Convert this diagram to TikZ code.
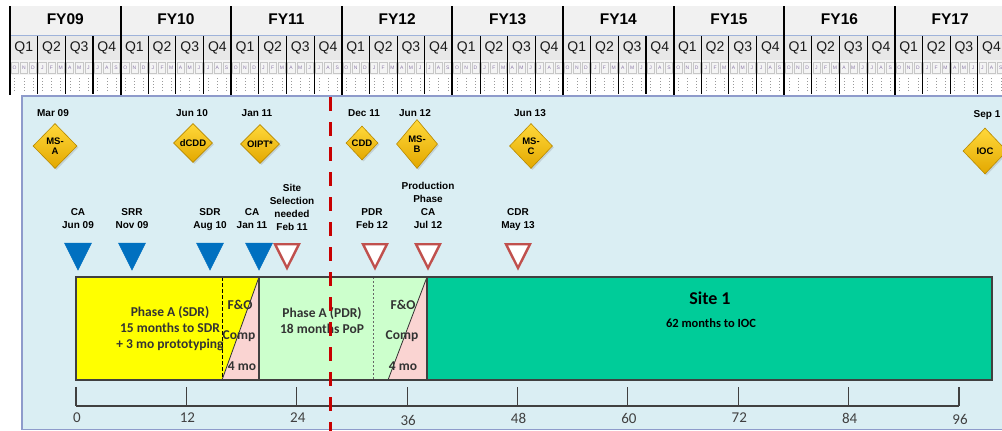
\documentclass[tikz,border=0pt]{standalone}
\usepackage{fontspec}
\setmainfont{Liberation Sans}
\newfontfamily\calfont{Carlito}
\usetikzlibrary{shapes.geometric,shadows}
\definecolor{panelfill}{HTML}{DAEEF3}
\definecolor{panelborder}{HTML}{8E9BCB}
\definecolor{hdrfy}{HTML}{F1F1F1}
\definecolor{hdrq}{HTML}{E8E8E8}
\definecolor{hdrm}{HTML}{F4F4F4}
\definecolor{blueline}{HTML}{9FB3DA}
\definecolor{monthtxt}{HTML}{8C7AA8}
\definecolor{baryellow}{HTML}{FFFF00}
\definecolor{barpink}{HTML}{FAD4D2}
\definecolor{bargreen}{HTML}{CCFFCC}
\definecolor{barteal}{HTML}{00CC99}
\definecolor{tblue}{HTML}{0070C0}
\definecolor{tred}{HTML}{C0504D}
\definecolor{reddash}{HTML}{C80000}
\definecolor{goldtop}{HTML}{FFD83A}
\definecolor{goldbot}{HTML}{E3A800}
\definecolor{goldedge}{HTML}{B88A00}
\definecolor{bartext}{HTML}{333333}
\definecolor{axisgray}{HTML}{404040}
\tikzset{
  fylabel/.style={font=\bfseries\fontsize{15.5}{15.5}\selectfont, inner sep=0},
  qlabel/.style={font=\fontsize{14}{14}\selectfont, text=black!90, inner sep=0},
  mlabel/.style={font=\fontsize{5}{5}\selectfont, text=monthtxt, inner sep=0},
  dia/.style={diamond, draw=goldedge, line width=0.6, shading=axis, top color=goldtop, bottom color=goldbot, inner sep=0, drop shadow={shadow xshift=1.5pt, shadow yshift=-1.5pt, opacity=0.25}},
  diatext/.style={font=\bfseries\fontsize{9.5}{10.5}\selectfont, align=center, inner sep=0},
  datelabel/.style={font=\bfseries\fontsize{10}{12}\selectfont, inner sep=0, anchor=base},
  trilabel/.style={font=\bfseries\fontsize{10}{13}\selectfont, align=center, inner sep=0, anchor=south, text depth=0pt},
  bluetri/.style={fill=tblue, draw=tblue, line width=0.5},
  redtri/.style={fill=white, draw=tred, line width=2.4, line join=miter},
  bartxt/.style={font=\calfont\bfseries\fontsize{13.5}{16}\selectfont, text=bartext, align=center, inner sep=0},
  axislabel/.style={font=\calfont\fontsize{15}{15}\selectfont, text=axisgray, inner sep=0},
}
\begin{document}
\begin{tikzpicture}[x=1pt,y=-1pt]
\useasboundingbox (0,0) rectangle (1002,431);
\clip (0,0) rectangle (1002,431);
\fill[white] (0,0) rectangle (1002,431);
% ---------- header ----------
\fill[hdrfy] (10,6) rectangle (1002,35);
\fill[hdrq] (10,35) rectangle (1002,60);
\fill[hdrm] (10,60) rectangle (1002,75);
\draw[blueline, line width=0.8] (10,35) -- (1002,35);
\foreach \k in {0,...,8}{
  \pgfmathsetmacro\xo{10+110.6*\k}
  \pgfmathtruncatemacro\yr{9+\k}
  \node[fylabel] (fy\k) at (\xo+55.3,19) {FY\ifnum\yr<10 0\fi\yr};
  \foreach \q in {0,...,3}{
    \pgfmathsetmacro\xq{\xo+27.65*\q}
    \pgfmathtruncatemacro\qq{\q+1}
    \node[qlabel] (q\k\q) at (\xq+13.8,48) {Q\qq};
  }
  \foreach \m/\L in {0/O,1/N,2/D,3/J,4/F,5/M,6/A,7/M,8/J,9/J,10/A,11/S}{
    \pgfmathsetmacro\xm{\xo+9.217*\m}
    \draw[black!22, line width=0.4] (\xm+1,62) rectangle (\xm+8.2,73);
    \node[mlabel] (m\k\m) at (\xm+4.6,67.5) {\L};
    \draw[black!40, line width=0.5, dash pattern=on 1pt off 2pt] (\xm+4.6,78) -- (\xm+4.6,93);
  }
  \foreach \q in {1,2,3}{
    \draw[black, line width=1.1] (\xo+27.65*\q,36) -- (\xo+27.65*\q,94);
  }
  \draw[black, line width=2] (\xo,6) -- (\xo,95);
}
% ---------- panel ----------
\draw[fill=panelfill, draw=panelborder, line width=1.6] (22,96) rectangle (1012,429.5);
% ---------- bars ----------
\fill[baryellow] (76,277) -- (259,277) -- (222,380) -- (76,380) -- cycle;
\fill[barpink] (259,277) -- (259,380) -- (222,380) -- cycle;
\fill[bargreen] (259,277) -- (427,277) -- (388,380) -- (259,380) -- cycle;
\fill[barpink] (427,277) -- (427,380) -- (388,380) -- cycle;
\fill[barteal] (427,277) rectangle (992,380);
\draw[black!80, line width=0.8] (259,277) -- (222,380);
\draw[black!80, line width=0.8] (427,277) -- (388,380);
\draw[black, line width=0.8, dash pattern=on 3.5pt off 2.5pt] (222,277) -- (222,380);
\draw[black!60, line width=0.9, dash pattern=on 1.5pt off 2.5pt] (373,277) -- (373,380);
\draw[black!75, line width=1.2] (259,277) -- (259,380);
\draw[black!75, line width=1.2] (427,277) -- (427,380);
\draw[black!75, line width=1.4] (76,277) rectangle (992,380);
\node[bartxt] (phA) at (170,329) {Phase A (SDR)\\15 months to SDR\\+ 3 mo prototyping};
\node[bartxt] (fo1) at (240,305) {F\&O};
\node[bartxt] (cp1) at (239,336) {Comp};
\node[bartxt] (mo1) at (242,366) {4 mo};
\node[bartxt] (phB) at (322,321) {Phase A (PDR)\\18 months PoP};
\node[bartxt] (fo2) at (403,305) {F\&O};
\node[bartxt] (cp2) at (402,336) {Comp};
\node[bartxt] (mo2) at (403,366) {4 mo};
\node[font=\calfont\bfseries\fontsize{18}{18}\selectfont, inner sep=0] (site) at (710,298) {Site 1};
\node[font=\calfont\bfseries\fontsize{12.5}{14}\selectfont, inner sep=0] (siteb) at (711,323) {62 months to IOC};
% ---------- axis ----------
\coordinate (ax0) at (76,406);
\coordinate (ax96) at (959,406);
\draw[axisgray, line width=1.2] (ax0) -- (ax96);
\foreach \v in {0,12,...,96}{
  \pgfmathsetmacro\xv{76+9.198*\v}
  \draw[axisgray, line width=1.2] (\xv,387) -- (\xv,406);
}
\foreach \v/\dy in {0/0,12/0,24/0,36/2.5,48/0,60/0,72/0,84/0,96/1.5}{
  \pgfmathsetmacro\xv{76+9.198*\v}
  \node[axislabel] (al\v) at (\xv+1,418+\dy) {\v};
}
% ---------- triangles ----------
\foreach \n/\x in {a/78,b/132,c/210,d/259}{
  \coordinate (t\n) at (\x,243);
  \draw[bluetri] ([xshift=-13.5pt]t\n) -- ([xshift=13.5pt]t\n) -- ([yshift=-27pt]t\n) -- cycle;
}
\foreach \n/\x in {e/287,f/375,g/428,h/518}{
  \coordinate (t\n) at (\x,243);
  \draw[redtri] ([xshift=-12pt,yshift=-1.2pt]t\n) -- ([xshift=12pt,yshift=-1.2pt]t\n) -- ([yshift=-25pt]t\n) -- cycle;
}
\node[trilabel] (la) at (78,229) {CA\\Jun 09};
\node[trilabel] (lb) at (132,229) {SRR\\Nov 09};
\node[trilabel] (lc) at (210,229) {SDR\\Aug 10};
\node[trilabel] (ld) at (252,229) {CA\\Jan 11};
\node[trilabel] (le) at (292,230.5) {Site\\Selection\\needed\\Feb 11};
\node[trilabel] (lf) at (372,229) {PDR\\Feb 12};
\node[trilabel] (lg) at (428,229) {Production\\Phase\\CA\\Jul 12};
\node[trilabel] (lh) at (518,229) {CDR\\May 13};
% ---------- diamonds ----------
\node[dia, minimum width=44, minimum height=45] (msa) at (55,146) {};
\node[diatext] (msat) at (msa) {MS-\\A};
\node[datelabel] (msad) at (53,116.5) {Mar 09};
\node[dia, minimum width=39, minimum height=39] (dcdd) at (193,143) {};
\node[diatext] (dcddt) at (dcdd) {dCDD};
\node[datelabel] (dcddd) at (192,116.5) {Jun 10};
\node[dia, minimum width=39, minimum height=39] (oipt) at (260,144) {};
\node[diatext] (oiptt) at (oipt) {OIPT*};
\node[datelabel] (oiptd) at (257,116.5) {Jan 11};
\node[dia, minimum width=32, minimum height=34] (cdd) at (362,143) {};
\node[diatext] (cddt) at (cdd) {CDD};
\node[datelabel] (cddd) at (364,116.5) {Dec 11};
\node[dia, minimum width=41, minimum height=49] (msb) at (417,144) {};
\node[diatext] (msbt) at (msb) {MS-\\B};
\node[datelabel] (msbd) at (415,116.5) {Jun 12};
\node[dia, minimum width=43, minimum height=45] (msc) at (531,146) {};
\node[diatext] (msct) at (msc) {MS-\\C};
\node[datelabel] (mscd) at (530,116.5) {Jun 13};
\node[dia, minimum width=44, minimum height=46] (ioc) at (985,151) {};
\node[diatext] (ioct) at (ioc) {IOC};
\node[datelabel] (iocd) at (987,117) {Sep 1};
% ---------- red dashed line ----------
\coordinate (rtop) at (330,97);
\coordinate (rbot) at (330,431);
\draw[reddash, line width=3, dash pattern=on 14pt off 11pt] (rtop) -- (rbot);
\end{tikzpicture}
\end{document}
